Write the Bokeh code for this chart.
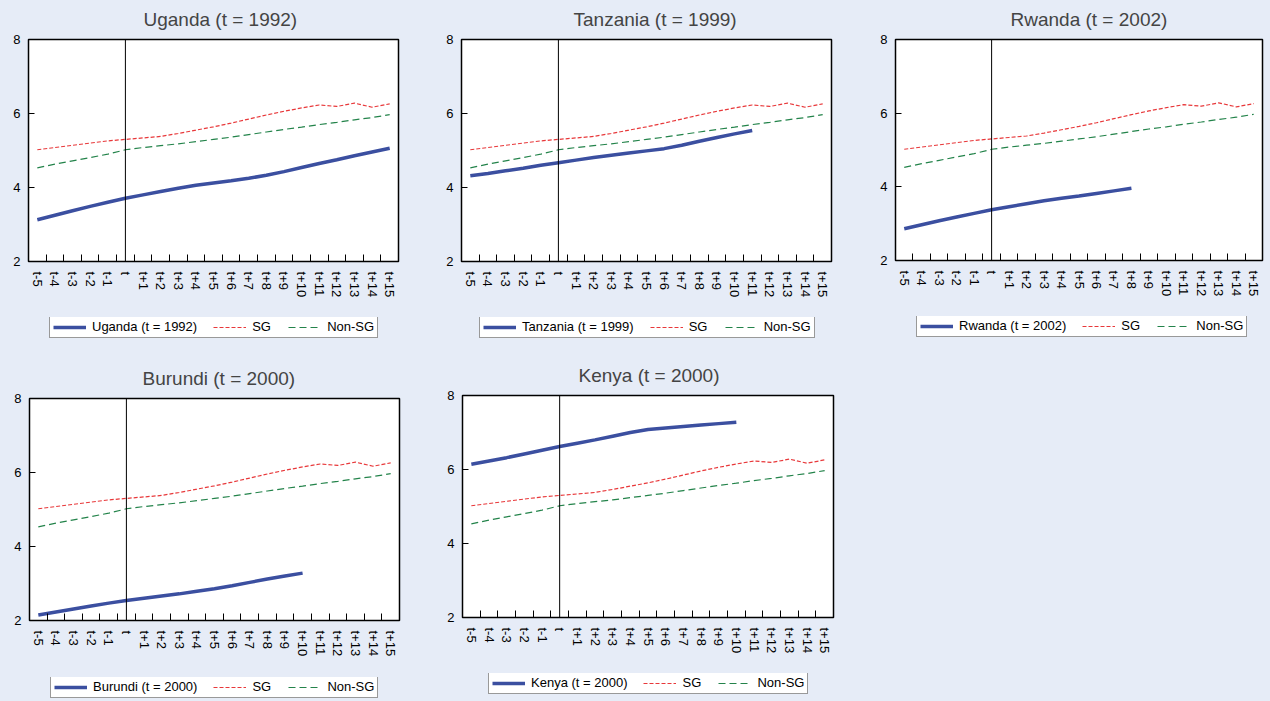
from bokeh.plotting import figure
from bokeh.layouts import column, row
from bokeh.models import Range1d, FixedTicker, Span, Legend, LegendItem
from bokeh.embed import file_html
from bokeh.resources import INLINE

BG = "#e6ecf7"
FONT = "Liberation Sans"

categories = ["t-5", "t-4", "t-3", "t-2", "t-1", "t",
              "t+1", "t+2", "t+3", "t+4", "t+5", "t+6", "t+7", "t+8",
              "t+9", "t+10", "t+11", "t+12", "t+13", "t+14", "t+15"]

sg = [5.02, 5.08, 5.14, 5.20, 5.26, 5.30, 5.34, 5.38, 5.46, 5.55, 5.64,
      5.74, 5.85, 5.96, 6.06, 6.15, 6.23, 6.19, 6.28, 6.17, 6.26]
non_sg = [4.53, 4.63, 4.72, 4.81, 4.90, 5.02, 5.08, 5.13, 5.18, 5.24, 5.30,
          5.36, 5.43, 5.50, 5.57, 5.63, 5.70, 5.76, 5.83, 5.89, 5.97]

uganda = [3.13, 3.25, 3.37, 3.49, 3.60, 3.71, 3.80, 3.89, 3.98, 4.06, 4.12,
          4.18, 4.25, 4.33, 4.43, 4.54, 4.65, 4.75, 4.86, 4.96, 5.06]
tanzania = [4.32, 4.38, 4.45, 4.52, 4.60, 4.67, 4.74, 4.81, 4.87, 4.93, 4.99,
            5.05, 5.14, 5.25, 5.35, 5.45, 5.54]
rwanda = [2.86, 2.97, 3.08, 3.18, 3.28, 3.38, 3.46, 3.54, 3.62, 3.69, 3.75,
          3.82, 3.89, 3.96]
burundi = [2.15, 2.23, 2.31, 2.39, 2.47, 2.54, 2.60, 2.66, 2.72, 2.79, 2.86,
           2.94, 3.03, 3.12, 3.20, 3.28]
kenya = [6.14, 6.23, 6.32, 6.42, 6.52, 6.62, 6.71, 6.80, 6.90, 7.00, 7.08,
         7.12, 7.16, 7.20, 7.24, 7.28]

y_ticks = [2, 4, 6, 8]

BLUE = "#3b4fa0"
RED = "#e8383a"
GREEN = "#23834a"


def draw_lines(p, vals):
    centers = [i + 0.5 for i in range(len(categories))]
    r_sg = p.line(centers, sg, line_color=RED, line_width=1.2,
                  line_dash="4 2")
    r_ns = p.line(centers, non_sg, line_color=GREEN, line_width=1.2,
                  line_dash="7 4")
    r_c = p.line(centers[:len(vals)], vals, line_color=BLUE, line_width=3.5)
    return r_c, r_sg, r_ns


def panel(name, year, vals, left, fw, right, top, fh, bottom,
          title_off, leg_x, leg_h, leg_y):
    title = f"{name} (t = {year})"
    width = left + fw + right
    p = figure(width=width, height=top + fh + bottom,
               min_border_left=left, min_border_right=right,
               min_border_top=top, min_border_bottom=bottom,
               x_range=Range1d(0, len(categories)), y_range=Range1d(2, 8),
               output_backend="svg", toolbar_location=None, title=title)
    p.title.align = "left"
    p.title.offset = title_off
    p.title.text_font = FONT
    p.title.text_font_size = "19px"
    p.title.text_font_style = "normal"
    p.title.vertical_align = "top"
    p.title.standoff = 16
    p.background_fill_color = "white"
    p.border_fill_color = BG
    p.outline_line_color = "black"
    p.outline_line_width = 1.5
    p.outline_line_alpha = 1
    p.grid.visible = False

    centers = [i + 0.5 for i in range(len(categories))]
    bounds = list(range(1, len(categories)))
    xa = p.xaxis[0]
    xa.ticker = FixedTicker(ticks=centers, minor_ticks=bounds)
    xa.major_label_overrides = {c: lab for c, lab in zip(centers, categories)}
    xa.major_tick_in = 0
    xa.major_tick_out = 0
    xa.minor_tick_in = 7
    xa.minor_tick_out = 0
    xa.minor_tick_line_color = "black"
    xa.axis_line_color = "black"
    xa.major_label_orientation = "vertical"
    xa.major_label_standoff = 10
    xa.major_label_text_font = FONT
    xa.major_label_text_font_size = "13px"
    xa.major_label_text_color = "black"

    ya = p.yaxis[0]
    ya.ticker = FixedTicker(ticks=y_ticks, minor_ticks=[])
    ya.major_tick_in = 6
    ya.major_tick_out = 0
    ya.major_tick_line_color = "black"
    ya.axis_line_color = "black"
    ya.major_label_standoff = 8
    ya.major_label_text_font = FONT
    ya.major_label_text_font_size = "13px"
    ya.major_label_text_color = "black"

    p.add_layout(Span(location=5.5, dimension="height", line_color="black",
                      line_width=1))
    draw_lines(p, vals)

    # legend strip below the panel (its y range excludes the data, so only
    # the legend samples are visible)
    lf = figure(width=width, height=leg_h, min_border=0,
                x_range=Range1d(0, len(categories)), y_range=Range1d(0, 1),
                x_axis_location=None, y_axis_location=None,
                output_backend="svg", toolbar_location=None)
    lf.background_fill_color = BG
    lf.border_fill_color = BG
    lf.outline_line_color = None
    lf.grid.visible = False
    r_c, r_sg, r_ns = draw_lines(lf, vals)
    leg = Legend(items=[LegendItem(label=title, renderers=[r_c]),
                        LegendItem(label="SG", renderers=[r_sg]),
                        LegendItem(label="Non-SG", renderers=[r_ns])],
                 orientation="horizontal", location=(leg_x, leg_y),
                 margin=0, padding=3, spacing=16, label_standoff=6,
                 glyph_width=33, glyph_height=14, label_height=14,
                 label_text_font=FONT, label_text_font_size="13px",
                 label_text_color="black",
                 border_line_color="#333333", border_line_width=1.5,
                 background_fill_color="white", background_fill_alpha=1)
    lf.add_layout(leg, "center")
    return column(p, lf, spacing=0)


c1 = panel("Uganda", 1992, uganda, 28, 370, 35, 39, 222, 56, 115, 21, 28, 7)
c2 = panel("Tanzania", 1999, tanzania, 28, 370, 35, 39, 222, 56, 112, 18, 28, 7)
c3 = panel("Rwanda", 2002, rwanda, 29, 367, 8, 38, 222, 56, 115, 21, 29, 8)
c4 = panel("Burundi", 2000, burundi, 29, 370, 34, 53, 222, 57, 113, 21, 23, 2)
c5 = panel("Kenya", 2000, kenya, 29, 371, 35, 50, 222, 56, 116, 26, 23, 2)

layout = column(row(c1, c2, c3, spacing=0), row(c4, c5, spacing=0), spacing=0,
                styles={"background-color": BG})

html = file_html(layout, INLINE, title="Growth paths")
html = html.replace("<head>", "<head><style>html,body{background:%s;}</style>" % BG, 1)
open("out.html", "w").write(html)
